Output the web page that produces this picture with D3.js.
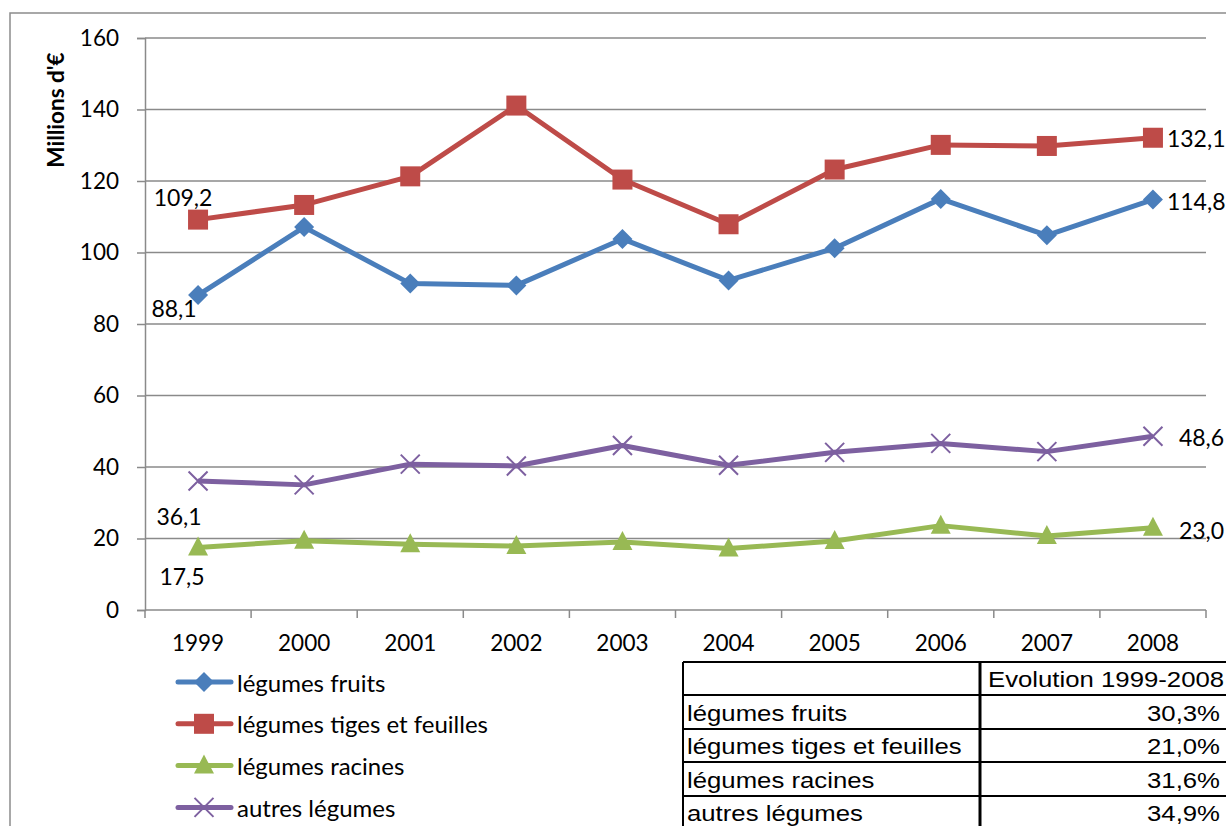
<!DOCTYPE html>
<html>
<head>
<meta charset="utf-8">
<script src="https://cdn.jsdelivr.net/npm/d3@7"></script>
<style>
    html, body { margin: 0; padding: 0; background: #fff; }
    svg { display: block; }
</style>
</head>
<body>
<div id="chart"></div>
<script>
const years = [1999, 2000, 2001, 2002, 2003, 2004, 2005, 2006, 2007, 2008];
const seriesNames = ['légumes fruits', 'légumes tiges et feuilles', 'légumes racines', 'autres légumes'];
const fruits = [88.1, 107.1, 91.3, 90.8, 103.8, 92.2, 101.2, 115.0, 104.8, 114.8];
const tiges = [109.2, 113.3, 121.3, 141.1, 120.4, 107.9, 123.2, 130.1, 129.8, 132.1];
const racines = [17.5, 19.4, 18.4, 17.9, 19.0, 17.2, 19.3, 23.6, 20.7, 23.0];
const autres = [36.1, 35.0, 40.8, 40.3, 46.0, 40.5, 44.1, 46.6, 44.3, 48.6];
const yTicks = [0, 20, 40, 60, 80, 100, 120, 140, 160];
const evolution = ['30,3%', '21,0%', '31,6%', '34,9%'];
const tableHeader = 'Evolution 1999-2008';

(function () {
    const colours = ['#4A7EBB', '#BE4B48', '#98B954', '#7D60A0'];
    const shapes = ['diamond', 'square', 'triangle', 'cross'];
    const allSeries = [fruits, tiges, racines, autres];
    const fmt = v => v.toFixed(1).replace('.', ',');
    const font = 'Lato, sans-serif';

    const [width, height] = [1226, 826];
    const svg = d3.select('#chart').append('svg')
        .attr('width', width).attr('height', height)
        .attr('viewBox', `0 0 ${width} ${height}`);

    // chart frame
    svg.append('rect')
        .attr('x', 10).attr('y', 13)
        .attr('width', width).attr('height', height)
        .attr('fill', 'none').attr('stroke', '#8c8c8c').attr('stroke-width', 1.5);

    const x = d3.scaleBand().domain(years).range([145, 1206]);
    const y = d3.scaleLinear().domain([0, 160]).range([610, 38]);
    const cx = d => x(d) + x.bandwidth() / 2;

    // gridlines
    svg.append('g').selectAll('line')
        .data(yTicks.filter(t => t > 0))
        .enter().append('line')
        .attr('x1', 145).attr('x2', 1206)
        .attr('y1', d => y(d)).attr('y2', d => y(d))
        .attr('stroke', '#8a8a8a').attr('stroke-width', 1.5);

    // y axis
    const yAxis = svg.append('g')
        .attr('transform', 'translate(145,0)')
        .call(d3.axisLeft(y).tickValues(yTicks).tickSize(8).tickPadding(18));
    yAxis.select('.domain').attr('stroke', '#8a8a8a').attr('stroke-width', 1.5);
    yAxis.selectAll('.tick line').attr('stroke', '#8a8a8a').attr('stroke-width', 1.5);
    yAxis.selectAll('text')
        .attr('font-family', font).attr('font-size', '22.5px').attr('fill', '#000');

    // x axis
    const xAxis = svg.append('g')
        .attr('transform', `translate(0,${y(0)})`)
        .call(d3.axisBottom(x).tickSize(0).tickPadding(25));
    xAxis.select('.domain').remove();
    xAxis.selectAll('text')
        .attr('font-family', font).attr('font-size', '22.5px').attr('fill', '#000');
    svg.append('line')
        .attr('x1', 145).attr('x2', 1206)
        .attr('y1', y(0)).attr('y2', y(0))
        .attr('stroke', '#8a8a8a').attr('stroke-width', 1.5);
    svg.append('g').selectAll('line')
        .data(years.map(d => x(d)).concat([1206]))
        .enter().append('line')
        .attr('x1', d => d).attr('x2', d => d)
        .attr('y1', y(0)).attr('y2', y(0) + 8)
        .attr('stroke', '#8a8a8a').attr('stroke-width', 1.5);

    svg.append('text')
        .attr('transform', `translate(64,110) rotate(-90)`)
        .attr('text-anchor', 'middle')
        .attr('font-family', font).attr('font-weight', 'bold')
        .attr('font-size', '22.5px')
        .text("Millions d'€");

    function marker(g, shape, colour, px, py) {
        if (shape === 'diamond') {
            g.append('path')
                .attr('d', `M${px},${py - 10}L${px + 10},${py}L${px},${py + 10}L${px - 10},${py}Z`)
                .attr('fill', colour);
        } else if (shape === 'square') {
            g.append('rect')
                .attr('x', px - 10).attr('y', py - 10).attr('width', 20).attr('height', 20)
                .attr('fill', colour);
        } else if (shape === 'triangle') {
            g.append('path')
                .attr('d', `M${px},${py - 11}L${px + 10},${py + 8}L${px - 10},${py + 8}Z`)
                .attr('fill', colour);
        } else {
            g.append('path')
                .attr('d', `M${px - 9.5},${py - 9.5}L${px + 9.5},${py + 9.5}M${px + 9.5},${py - 9.5}L${px - 9.5},${py + 9.5}`)
                .attr('stroke', colour).attr('stroke-width', 2).attr('fill', 'none');
        }
    }

    const line = d3.line().x((d, i) => cx(years[i])).y(d => y(d));
    allSeries.forEach((data, s) => {
        const g = svg.append('g');
        g.append('path')
            .attr('d', line(data))
            .attr('fill', 'none')
            .attr('stroke', colours[s])
            .attr('stroke-width', 5)
            .attr('stroke-linejoin', 'round');
        data.forEach((v, i) => marker(g, shapes[s], colours[s], cx(years[i]), y(v)));
    });

    // data labels on first and last points
    const firstOffsets = [[-24, 13], [-15, -23], [-16, 29], [-19, 35]];
    const lastOffsets = [[14, 1], [14, 0], [26, 2], [26, 1]];
    allSeries.forEach((data, s) => {
        svg.append('text')
            .attr('x', cx(years[0]) + firstOffsets[s][0])
            .attr('y', y(data[0]) + firstOffsets[s][1])
            .attr('text-anchor', 'middle').attr('dominant-baseline', 'central')
            .attr('font-family', font).attr('font-size', '23px')
            .text(fmt(data[0]));
        const last = data.length - 1;
        svg.append('text')
            .attr('x', cx(years[last]) + lastOffsets[s][0])
            .attr('y', y(data[last]) + lastOffsets[s][1])
            .attr('dominant-baseline', 'central')
            .attr('font-family', font).attr('font-size', '23px')
            .text(fmt(data[last]));
    });

    // legend
    const legend = svg.append('g');
    seriesNames.forEach((name, s) => {
        const ly = 682 + s * 41.8;
        legend.append('line')
            .attr('x1', 178).attr('x2', 231).attr('y1', ly).attr('y2', ly)
            .attr('stroke', colours[s]).attr('stroke-width', 5).attr('stroke-linecap', 'round');
        marker(legend, shapes[s], colours[s], 204, ly);
        legend.append('text')
            .attr('x', 237).attr('y', ly).attr('dominant-baseline', 'central')
            .attr('font-family', font).attr('font-size', '24px')
            .text(name);
    });

    // table
    const table = svg.append('g');
    const [tx0, tx1, tx2] = [683, 980, 1226];
    const rowLines = [662, 695, 729, 762, 796];
    const rows = [['', tableHeader]].concat(seriesNames.map((n, i) => [n, evolution[i]]));
    const tableText = (tx, ty, str, anchor) => table.append('text')
        .attr('transform', `translate(${tx},${ty}) scale(1.17,1)`)
        .attr('text-anchor', anchor)
        .attr('dominant-baseline', 'central')
        .attr('font-family', 'Liberation Sans, Arial, sans-serif').attr('font-size', '22px')
        .text(str);
    rows.forEach((r, i) => {
        const ty = rowLines[i];
        const next = i + 1 < rowLines.length ? rowLines[i + 1] : ty + 33;
        const mid = (ty + next) / 2 + 1;
        table.append('line')
            .attr('x1', tx0).attr('x2', tx2).attr('y1', ty).attr('y2', ty)
            .attr('stroke', '#000').attr('stroke-width', 2);
        tableText(tx0 + 4, mid, r[0], 'start');
        tableText(i === 0 ? tx1 + 8 : tx2 - 6, mid, r[1], i === 0 ? 'start' : 'end');
    });
    table.append('line')
        .attr('x1', tx0).attr('x2', tx0).attr('y1', rowLines[0]).attr('y2', height)
        .attr('stroke', '#000').attr('stroke-width', 2);
    table.append('line')
        .attr('x1', tx1).attr('x2', tx1).attr('y1', rowLines[0]).attr('y2', height)
        .attr('stroke', '#000').attr('stroke-width', 3);
})();
</script>
</body>
</html>
